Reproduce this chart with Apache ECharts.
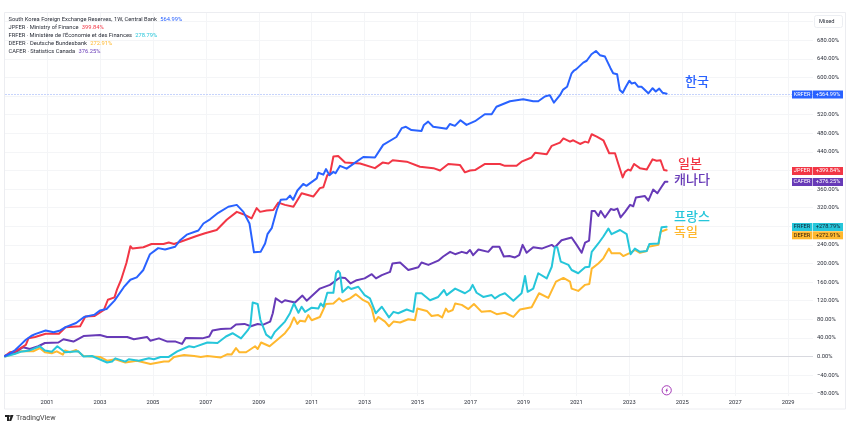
<!DOCTYPE html>
<html><head><meta charset="utf-8">
<style>html,body{margin:0;padding:0;background:#fff}#c{width:850px;height:426px}</style>
<script src="https://cdn.jsdelivr.net/npm/echarts@6/dist/echarts.min.js"></script>
</head><body><div id="c"></div>
<script>
const xTicks=[2001,2003,2005,2007,2009,2011,2013,2015,2017,2019,2021,2023,2025,2027,2029];
const yTicks=[-80,-40,0,40,80,120,160,200,240,280,320,360,400,440,480,520,560,600,640,680,720];
const krfer=[[1999.41,1],[1999.6,6],[1999.8,14],[2000,25],[2000.2,36],[2000.4,44],[2000.55,48],[2000.95,56],[2001.25,52],[2001.5,56],[2001.7,63],[2002.1,72],[2002.4,85],[2002.8,90],[2003,99],[2003.25,102],[2003.55,120],[2003.9,149],[2004.15,165],[2004.39,170],[2004.64,186],[2004.77,204],[2004.89,220],[2005.2,233],[2005.46,230],[2005.84,236],[2006.03,250],[2006.28,262],[2006.72,271],[2006.91,286],[2007.16,295],[2007.47,309],[2007.85,322],[2008.17,326],[2008.42,311],[2008.65,286],[2008.82,224],[2009.07,225],[2009.24,243],[2009.33,263],[2009.49,276],[2009.68,315],[2009.83,337],[2010.05,338],[2010.18,346],[2010.3,337],[2010.46,357],[2010.68,371],[2010.8,367],[2011.19,383],[2011.25,395],[2011.44,391],[2011.54,403],[2011.67,390],[2011.82,397],[2011.9,394],[2012.07,410],[2012.32,404],[2012.64,417],[2012.95,429],[2013.39,428],[2013.7,455],[2014.2,472],[2014.4,491],[2014.56,494],[2014.77,487],[2015.15,485],[2015.24,498],[2015.4,505],[2015.59,494],[2016.1,490],[2016.22,500],[2016.41,496],[2016.62,508],[2016.85,498],[2017.17,506],[2017.54,521],[2017.8,521],[2017.98,537],[2018.49,549],[2018.99,553],[2019.37,549],[2019.56,549],[2019.81,559],[2020,562],[2020.15,546],[2020.38,562],[2020.5,574],[2020.65,580],[2020.82,609],[2020.91,615],[2021,618],[2021.26,632],[2021.39,636],[2021.57,650],[2021.74,657],[2021.89,648],[2022.08,645],[2022.29,620],[2022.39,609],[2022.54,607],[2022.64,573],[2022.75,567],[2022.87,580],[2023,593],[2023.09,587],[2023.21,589],[2023.34,580],[2023.46,580],[2023.72,566],[2023.88,577],[2024,570],[2024.13,576],[2024.26,567],[2024.41,565]];
const jpfer=[[1999.41,1],[1999.6,9],[1999.8,11],[2000,18],[2000.2,25],[2000.3,39],[2000.55,42],[2000.95,49],[2001.45,49],[2001.7,63],[2002.25,65],[2002.45,86],[2002.8,87],[2003.15,100],[2003.3,122],[2003.55,127],[2003.65,145],[2003.8,165],[2004,201],[2004.15,237],[2004.23,232],[2004.64,235],[2004.95,242],[2005.4,242],[2005.6,245],[2005.8,242],[2006.15,249],[2006.65,259],[2006.97,265],[2007.41,272],[2007.79,294],[2008.17,311],[2008.42,306],[2008.73,297],[2008.92,319],[2009.05,311],[2009.3,314],[2009.55,315],[2009.74,331],[2009.99,326],[2010.31,322],[2010.62,351],[2011.06,344],[2011.31,362],[2011.44,364],[2011.59,390],[2011.69,392],[2011.82,430],[2012,431],[2012.26,417],[2012.83,415],[2013.39,405],[2013.68,417],[2013.9,415],[2014.06,422],[2014.59,419],[2015.09,408],[2015.6,405],[2015.85,400],[2016.16,414],[2016.6,412],[2016.79,396],[2016.98,400],[2017.17,401],[2017.55,414],[2018.11,414],[2018.3,410],[2018.74,410],[2018.93,419],[2019.31,428],[2019.44,438],[2019.88,435],[2020.07,453],[2020.38,460],[2020.51,469],[2020.76,462],[2020.88,465],[2021.14,457],[2021.33,462],[2021.45,460],[2021.58,478],[2021.77,473],[2022.02,465],[2022.24,437],[2022.46,437],[2022.58,415],[2022.75,385],[2022.84,397],[2022.96,402],[2023.05,400],[2023.18,414],[2023.4,405],[2023.66,402],[2023.88,424],[2024.03,421],[2024.18,422],[2024.31,401],[2024.41,400]];
const frfer=[[1999.41,0],[1999.8,6],[2000,10],[2000.35,13],[2000.73,22],[2000.92,13],[2001.18,10],[2001.39,22],[2001.68,9],[2002.19,11],[2002.38,0],[2002.7,1],[2003.27,-13],[2003.46,-11],[2003.58,-4],[2003.96,-11],[2004.09,-6],[2004.47,-9],[2004.85,-4],[2005.04,-6],[2005.29,-1],[2005.6,-1],[2005.92,11],[2006.37,22],[2006.56,20],[2007.06,30],[2007.44,29],[2007.76,43],[2008.01,50],[2008.33,39],[2008.58,56],[2008.68,65],[2008.77,116],[2008.96,113],[2009.06,79],[2009.28,47],[2009.47,39],[2009.61,53],[2009.8,64],[2009.99,75],[2010.18,93],[2010.33,114],[2010.5,94],[2010.62,107],[2010.75,96],[2011,105],[2011.25,103],[2011.34,114],[2011.44,107],[2011.59,137],[2011.82,137],[2011.92,179],[2012,184],[2012.07,179],[2012.16,138],[2012.38,150],[2012.49,145],[2012.76,150],[2013,132],[2013.2,125],[2013.42,93],[2013.65,107],[2013.92,84],[2014.09,96],[2014.27,93],[2014.59,101],[2014.84,96],[2014.94,136],[2015.15,136],[2015.47,121],[2015.78,128],[2016,143],[2016.1,132],[2016.42,146],[2016.79,136],[2016.98,143],[2017.08,154],[2017.23,137],[2017.48,128],[2017.8,132],[2017.92,125],[2018.11,132],[2018.3,136],[2018.62,120],[2018.93,136],[2019.06,173],[2019.16,139],[2019.37,146],[2019.56,179],[2019.88,168],[2020.07,193],[2020.19,235],[2020.28,235],[2020.41,204],[2020.7,197],[2020.82,186],[2021.07,179],[2021.33,192],[2021.49,193],[2021.58,225],[2021.83,243],[2022.02,258],[2022.21,275],[2022.33,263],[2022.65,272],[2022.9,263],[2023.05,220],[2023.21,232],[2023.4,225],[2023.66,227],[2023.76,242],[2024.1,243],[2024.22,278],[2024.41,279]];
const defer=[[1999.41,0],[1999.8,7],[2000,11],[2000.48,11],[2000.73,18],[2000.92,9],[2001.18,7],[2001.37,11],[2001.6,4],[2001.68,13],[2001.87,9],[2002.1,14],[2002.38,1],[2003,-1],[2003.27,-9],[2003.58,-6],[2003.96,-13],[2004.4,-9],[2004.91,-16],[2005.42,-11],[2005.6,-11],[2005.8,-1],[2006.18,3],[2006.56,1],[2006.81,-1],[2007.06,1],[2007.57,-2],[2007.82,5],[2007.97,4],[2008.14,18],[2008.27,9],[2008.52,9],[2008.65,14],[2008.86,22],[2008.96,16],[2009.09,30],[2009.41,22],[2009.68,35],[2009.99,50],[2010.18,64],[2010.33,84],[2010.46,70],[2010.56,77],[2010.75,75],[2010.87,89],[2011,78],[2011.31,85],[2011.54,113],[2011.82,114],[2012.04,125],[2012.17,118],[2012.45,125],[2012.67,134],[2012.95,121],[2013.14,116],[2013.27,103],[2013.39,75],[2013.52,85],[2013.77,75],[2013.92,65],[2014.09,75],[2014.34,73],[2014.65,80],[2014.9,78],[2014.99,103],[2015.35,98],[2015.53,87],[2015.78,89],[2015.93,84],[2016.07,103],[2016.16,96],[2016.33,100],[2016.42,114],[2016.67,111],[2016.92,102],[2017.13,113],[2017.42,96],[2017.74,98],[2017.99,91],[2018.3,94],[2018.62,85],[2018.87,101],[2019.31,106],[2019.59,136],[2019.94,126],[2020.23,161],[2020.51,169],[2020.76,161],[2020.82,146],[2021.07,141],[2021.33,154],[2021.49,156],[2021.58,189],[2021.83,200],[2022.02,211],[2022.23,232],[2022.33,222],[2022.65,222],[2022.77,216],[2023.03,223],[2023.21,229],[2023.4,223],[2023.66,227],[2023.72,236],[2024.1,240],[2024.18,268],[2024.41,273]];
const cafer=[[1999.41,1],[1999.8,9],[2000.1,20],[2000.35,16],[2000.67,22],[2000.92,29],[2001.43,30],[2001.62,37],[2002,32],[2002.38,44],[2003,46],[2003.27,42],[2003.58,42],[2004.03,42],[2004.28,37],[2004.78,42],[2004.9,34],[2005.23,39],[2005.55,32],[2005.86,32],[2006.1,27],[2006.24,40],[2006.87,39],[2007.13,43],[2007.25,56],[2007.57,59],[2007.95,60],[2008.14,69],[2008.46,70],[2008.7,65],[2008.96,70],[2009.15,68],[2009.43,75],[2009.53,93],[2009.64,125],[2009.87,116],[2009.99,121],[2010.37,116],[2010.65,131],[2010.81,120],[2011.31,146],[2011.69,154],[2012.07,170],[2012.26,169],[2012.47,157],[2012.7,164],[2013,168],[2013.27,177],[2013.43,168],[2013.65,175],[2013.96,182],[2014.05,200],[2014.34,202],[2014.65,186],[2015.03,192],[2015.15,202],[2015.41,197],[2015.78,206],[2015.97,215],[2016.23,225],[2016.42,220],[2016.67,225],[2016.86,222],[2016.98,229],[2017.1,218],[2017.3,230],[2017.67,225],[2017.84,236],[2018.09,236],[2018.26,215],[2018.47,216],[2018.68,213],[2018.84,218],[2018.97,240],[2019.12,223],[2019.37,235],[2019.69,232],[2020.07,240],[2020.19,235],[2020.44,250],[2020.82,256],[2021.01,240],[2021.2,223],[2021.33,245],[2021.48,249],[2021.58,313],[2021.7,313],[2021.83,302],[2021.92,313],[2022.08,299],[2022.3,317],[2022.42,315],[2022.55,318],[2022.67,299],[2022.84,311],[2023.03,326],[2023.15,323],[2023.25,342],[2023.59,345],[2023.72,335],[2023.9,359],[2024.06,351],[2024.22,365],[2024.35,376],[2024.44,376]];
const legendNames=['South Korea Foreign Exchange Reserves, 1W, Central Bank','JPFER · Ministry of Finance','FRFER · Ministère de l\'Économie et des Finances','DEFER · Deutsche Bundesbank','CAFER · Statistics Canada'];
const legendValues=['564.99%','399.84%','278.79%','272.91%','376.25%'];
const tagNames=['KRFER','JPFER','CAFER','FRFER','DEFER'];
const tagValues=['+564.99%','+399.84%','+376.25%','+278.79%','+272.91%'];
const countryNames=['한국','일본','캐나다','프랑스','독일'];

const BLUE='#2962FF',RED='#F23645',PURPLE='#673AB7',CYAN='#26C6DA',ORANGE='#FFB82E';
const FONT='Roboto, "Open Sans", sans-serif';
const KFONT='"Noto Sans CJK KR", sans-serif';
const legendColors=[BLUE,RED,CYAN,ORANGE,PURPLE];
const chart=echarts.init(document.getElementById('c'),null,{renderer:'canvas'});
function line(name,data,color,extra){return Object.assign({type:'line',name,data,z:3,showSymbol:false,symbol:'none',smooth:false,animation:false,silent:true,clip:true,lineStyle:{color,width:2,join:'round',cap:'round'}},extra||{});}
const graphic=[];
graphic.push({type:'rect',shape:{x:4.5,y:12.5,width:841,height:396.5},style:{fill:'none',stroke:'#ecedf1',lineWidth:1},z:0,silent:true});
legendNames.forEach((n,i)=>{graphic.push({type:'text',x:8.5,y:19.5+8*i,z:20,silent:true,style:{text:'{a|'+n+'} {b'+i+'|'+legendValues[i]+'}',verticalAlign:'middle',rich:Object.assign({a:{fill:'#2a2e39',font:'5.75px '+FONT}},{['b'+i]:{fill:legendColors[i],font:'5.75px '+FONT}})}});});
const cl=[[685,81,BLUE],[678,163.5,RED],[674,179,PURPLE],[674,216,CYAN],[674,231.5,ORANGE]];
countryNames.forEach((n,i)=>{graphic.push({type:'text',x:cl[i][0],y:cl[i][1],z:20,silent:true,style:{text:n,fill:cl[i][2],font:'500 13px '+KFONT,verticalAlign:'middle'}});});
const tags=[[94.5,BLUE,'#fff'],[171,RED,'#fff'],[182,PURPLE,'#fff'],[227,CYAN,'#123'],[235.3,ORANGE,'#321']];
tagNames.forEach((n,i)=>{const [y,c,t]=tags[i];
 graphic.push({type:'rect',shape:{x:792,y:y-4,width:20,height:8},style:{fill:c},z:30,silent:true});
 graphic.push({type:'rect',shape:{x:812.6,y:y-4,width:30.4,height:8},style:{fill:c},z:30,silent:true});
 graphic.push({type:'text',x:802,y:y,z:31,silent:true,style:{text:n,fill:t,font:'5.6px '+FONT,align:'center',verticalAlign:'middle'}});
 graphic.push({type:'text',x:828,y:y,z:31,silent:true,style:{text:tagValues[i],fill:t,font:'5.6px '+FONT,align:'center',verticalAlign:'middle'}});
});
graphic.push({type:'rect',shape:{x:814.5,y:15.5,width:28,height:12,r:2},style:{fill:'#fff',stroke:'#eceef2',lineWidth:1},z:30,silent:true});
graphic.push({type:'text',x:819,y:21.5,z:31,silent:true,style:{text:'Mixed',fill:'#2a2e39',font:'5.75px '+FONT,verticalAlign:'middle'}});
graphic.push({type:'circle',shape:{cx:666.7,cy:390.3,r:4.6},style:{fill:'#fff',stroke:'#9C27B0',lineWidth:0.9},z:30,silent:true});
graphic.push({type:'polygon',shape:{points:[[667.6,387.4],[665.4,390.8],[666.6,390.8],[665.9,393.2],[668.1,389.8],[666.9,389.8]]},style:{fill:'#9C27B0'},z:31,silent:true});
graphic.push({type:'polygon',shape:{points:[[5,415],[9,415],[9,421],[7,421],[7,417],[5,417]]},style:{fill:'#222'},z:30,silent:true});
graphic.push({type:'circle',shape:{cx:10,cy:416,r:1},style:{fill:'#222'},z:30,silent:true});
graphic.push({type:'polygon',shape:{points:[[11,415],[13.5,415],[11.2,421],[9,421]]},style:{fill:'#222'},z:30,silent:true});
graphic.push({type:'text',x:16,y:418,z:30,silent:true,style:{text:'TradingView',fill:'#444',font:'7.2px '+FONT,verticalAlign:'middle'}});

chart.setOption({
 animation:false,backgroundColor:'#fff',
 grid:{left:5,top:13,width:808,height:383,containLabel:false},
 xAxis:{type:'value',min:1999.413,max:2029.94,
  axisLine:{show:false},axisTick:{show:false,customValues:xTicks},
  splitLine:{show:true,showMinLine:true,showMaxLine:true,lineStyle:{color:'#f4f5f7',width:1}},
  axisLabel:{customValues:xTicks,hideOverlap:false,formatter:v=>String(v),color:'#2a2e39',fontSize:5.75,fontFamily:FONT,margin:4}},
 yAxis:{type:'value',position:'right',min:-85,max:738.7,
  axisLine:{show:false},axisTick:{show:false,customValues:yTicks},
  splitLine:{show:true,lineStyle:{color:'#f4f5f7',width:1}},
  axisLabel:{customValues:yTicks,formatter:v=>(v<0?'−':'')+Math.abs(v).toFixed(2)+'%',color:'#2a2e39',fontSize:5.75,fontFamily:FONT,margin:4,padding:[1,0,0,0]}},
 graphic:{elements:graphic},
 series:[
  line('DEFER',defer,ORANGE),
  line('CAFER',cafer,PURPLE),
  line('FRFER',frfer,CYAN),
  line('JPFER',jpfer,RED),
  line('KRFER',krfer,BLUE,{markLine:{z:1,silent:true,symbol:'none',animation:false,label:{show:false},data:[
    {yAxis:564.99,lineStyle:{color:'#b9c9fb',type:[2,1],width:0.8}},
    {yAxis:0,lineStyle:{color:'#d8d9df',type:'solid',width:1}}]}})
 ]
});
</script></body></html>
